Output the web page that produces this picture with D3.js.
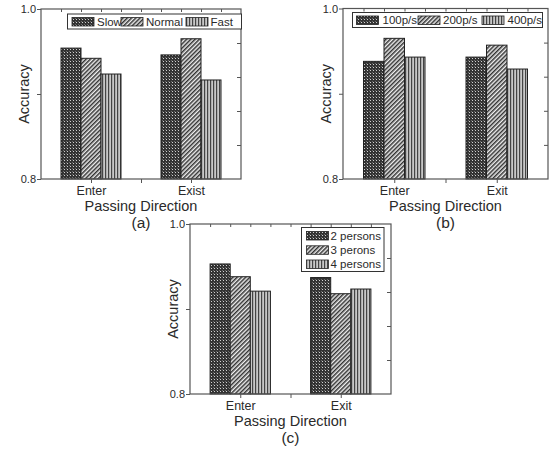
<!DOCTYPE html>
<html><head><meta charset="utf-8">
<script src="https://cdn.jsdelivr.net/npm/d3@7"></script>
<style>body{margin:0;background:#fff}svg{display:block}text{font-family:"Liberation Sans",Arial,sans-serif}</style>
</head><body>
<svg id="c" width="553" height="452"></svg>
<script>
// ---- data ----
const categoriesA = ["Enter", "Exist"];
const seriesA = ["Slow", "Normal", "Fast"];
const valuesA = [[0.954, 0.946], [0.942, 0.965], [0.9235, 0.9165]];

const categoriesB = ["Enter", "Exit"];
const seriesB = ["100p/s", "200p/s", "400p/s"];
const valuesB = [[0.938, 0.943], [0.965, 0.957], [0.943, 0.929]];

const categoriesC = ["Enter", "Exit"];
const seriesC = ["2 persons", "3 perons", "4 persons"];
const valuesC = [[0.953, 0.937], [0.938, 0.918], [0.921, 0.9235]];

const yDomain = [0.8, 1.0];
const yTickLabels = ["0.8", "1.0"];
const xTitle = "Passing Direction";
const yTitle = "Accuracy";
const panelLabels = ["(a)", "(b)", "(c)"];

// ---- drawing ----
const svg = d3.select("#c");
const defs = svg.append("defs");
const axisCol = "#555", textCol = "#2a2a2a";

// patterns
const p0 = defs.append("pattern").attr("id","pat0").attr("patternUnits","userSpaceOnUse").attr("width",3).attr("height",3);
p0.append("rect").attr("width",3).attr("height",3).attr("fill","#333");
p0.append("rect").attr("x",1).attr("y",1).attr("width",1).attr("height",1).attr("fill","#d0d0d0");
p0.append("rect").attr("x",0).attr("y",0).attr("width",1).attr("height",1).attr("fill","#6a6a6a");
const p1 = defs.append("pattern").attr("id","pat1").attr("patternUnits","userSpaceOnUse").attr("width",3).attr("height",3).attr("patternTransform","rotate(45)");
p1.append("rect").attr("width",3).attr("height",3).attr("fill","#eee");
p1.append("rect").attr("width",1.5).attr("height",3).attr("fill","#333");
const p2 = defs.append("pattern").attr("id","pat2").attr("patternUnits","userSpaceOnUse").attr("width",3).attr("height",3);
p2.append("rect").attr("width",3).attr("height",3).attr("fill","#c8c8c8");
p2.append("rect").attr("width",1.2).attr("height",3).attr("fill","#444");
const pats = ["url(#pat0)","url(#pat1)","url(#pat2)"];

function panel(cfg) {
  const {L, T, R, B, categories, series, values, label, legend} = cfg;
  const W = R - L;
  const g = svg.append("g");
  const x = d3.scalePoint().domain(categories).range([L, R]).padding(0.5);
  const y = d3.scaleLinear().domain(yDomain).range([B, T]);
  const bw = W / 10;
  const xs = d3.scaleBand().domain(series).range([-1.5 * bw, 1.5 * bw]);

  // bars
  series.forEach((s, si) => {
    g.selectAll(null).data(categories.map((c, ci) => ({c, v: values[si][ci]})))
      .enter().append("rect")
      .attr("x", d => x(d.c) + xs(s))
      .attr("y", d => y(d.v))
      .attr("width", xs.bandwidth())
      .attr("height", d => B - y(d.v))
      .attr("fill", pats[si])
      .attr("stroke", "#222").attr("stroke-width", 1);
  });

  // frame
  g.append("rect").attr("x", L).attr("y", T).attr("width", W).attr("height", B - T)
    .attr("fill", "none").attr("stroke", axisCol).attr("stroke-width", 1.2);

  // left axis
  const yl = d3.axisLeft(y).tickValues([0.8, 0.9, 1.0]).tickSize(4)
    .tickFormat(d => { const i = [0.8, 1.0].findIndex(v => Math.abs(v - d) < 1e-9); return i >= 0 ? yTickLabels[i] : ""; });
  const gl = g.append("g").attr("transform", `translate(${L},0)`).call(yl);
  // right axis (inner ticks)
  const yr = d3.axisLeft(y).tickValues([0.84, 0.88, 0.92, 0.96]).tickSize(4).tickFormat("");
  const gr = g.append("g").attr("transform", `translate(${R},0)`).call(yr);
  // top axis (inner ticks)
  const xt = d3.scaleLinear().domain([0, 10]).range([L, R]);
  const gt = g.append("g").attr("transform", `translate(0,${T})`)
    .call(d3.axisBottom(xt).tickValues(d3.range(1, 10)).tickSize(3).tickFormat(""));
  // bottom axis
  const gb = g.append("g").attr("transform", `translate(0,${B})`)
    .call(d3.axisBottom(x).tickSize(4).tickPadding(3));
  const gbm = g.append("g").attr("transform", `translate(0,${B})`)
    .call(d3.axisBottom(xt).tickValues([5]).tickSize(4).tickFormat(""));
  [gl, gr, gt, gb, gbm].forEach(a => {
    a.select(".domain").remove();
    a.selectAll("line").attr("stroke", axisCol);
  });
  gl.selectAll("text").attr("font-size", 11).attr("fill", textCol).attr("dx", 2).style("font-family", '"Liberation Sans",Arial,sans-serif');
  gb.selectAll("text").attr("font-size", 12.5).attr("fill", textCol).style("font-family", '"Liberation Sans",Arial,sans-serif');

  // titles
  g.append("text").attr("x", (L + R) / 2).attr("y", B + 32).attr("text-anchor", "middle")
    .attr("font-size", 14.5).attr("fill", textCol).text(xTitle);
  g.append("text").attr("x", (L + R) / 2).attr("y", B + 49).attr("text-anchor", "middle")
    .attr("font-size", 15.5).attr("fill", textCol).text(label);
  g.append("text").attr("transform", `translate(${L - 12.5},${(T + B) / 2}) rotate(-90)`)
    .attr("text-anchor", "middle").attr("font-size", 14.5).attr("fill", textCol).text(yTitle);

  // legend
  const lg = g.append("g");
  lg.append("rect").attr("x", legend.box[0]).attr("y", legend.box[1]).attr("width", legend.box[2]).attr("height", legend.box[3])
    .attr("fill", "#fff").attr("stroke", "#333").attr("stroke-width", 1);
  series.forEach((s, si) => {
    const [sx, sy, tx] = legend.items[si];
    lg.append("rect").attr("x", sx).attr("y", sy).attr("width", 22).attr("height", 8.5)
      .attr("fill", pats[si]).attr("stroke", "#222").attr("stroke-width", 0.8);
    lg.append("text").attr("x", tx).attr("y", sy + 8.3).attr("font-size", 11.5).attr("fill", textCol).text(s);
  });
}

panel({L: 41, T: 9, R: 241, B: 179, categories: categoriesA, series: seriesA, values: valuesA, label: panelLabels[0],
  legend: {box: [67.5, 14, 174, 15], items: [[72, 17.5, 97], [121, 17.5, 146], [186, 17.5, 210.5]]}});
panel({L: 343, T: 8.5, R: 548, B: 179, categories: categoriesB, series: seriesB, values: valuesB, label: panelLabels[1],
  legend: {box: [352.5, 12.5, 190, 15], items: [[356.5, 16, 382.5], [418, 16, 443], [482, 16, 507.5]]}});
panel({L: 190, T: 224, R: 391, B: 394, categories: categoriesC, series: seriesC, values: valuesC, label: panelLabels[2],
  legend: {box: [301.5, 227.5, 82.5, 44], items: [[306.5, 231.5, 330.5], [306.5, 245.8, 330.5], [306.5, 260, 330.5]]}});
</script>
</body></html>
